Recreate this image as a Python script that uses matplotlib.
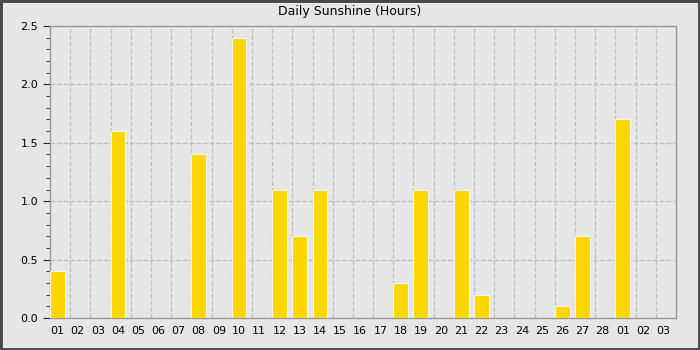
import numpy as np
import matplotlib.pyplot as plt
from matplotlib.patches import Rectangle

days = ['01', '02', '03', '04', '05', '06', '07', '08', '09', '10',
        '11', '12', '13', '14', '15', '16', '17', '18', '19', '20',
        '21', '22', '23', '24', '25', '26', '27', '28', '01', '02', '03']
sunshine = [0.4, 0, 0, 1.6, 0, 0, 0, 1.4, 0, 2.4,
            0, 1.1, 0.7, 1.1, 0, 0, 0, 0.3, 1.1, 0,
            1.1, 0.2, 0, 0, 0, 0.1, 0.7, 0, 1.7, 0, 0]

bg = '#e6e6e6'
fig = plt.figure(figsize=(7, 3.5), dpi=100, facecolor=bg)
ax = fig.add_axes([50 / 700, 1 - 318 / 350, 626 / 700, 292 / 350])
ax.set_facecolor(bg)

x = np.arange(len(days))
w = 0.73
ax.bar(x, sunshine, width=w, align='edge', color='#ffd700',
       edgecolor='#f4f4f4', linewidth=0.8, zorder=3)

ax.set_xlim(0, len(days))
ax.set_ylim(0, 2.5)
ax.set_xticks(x + w / 2)
ax.set_xticklabels(days)
ax.set_xticks(np.arange(1, len(days)), minor=True)
ax.tick_params(axis='x', which='both', length=0, labelsize=8, pad=6)
ax.set_yticks(np.arange(0, 2.51, 0.5))
ax.set_yticks(np.arange(0, 2.51, 0.1), minor=True)
ax.tick_params(axis='y', which='major', length=5, labelsize=8, color='#222222')
ax.tick_params(axis='y', which='minor', length=3, color='#222222')

ax.grid(axis='x', which='minor', linestyle='--', color='#bdbdbd', linewidth=0.9, zorder=0)
ax.grid(axis='y', which='major', linestyle='--', color='#bdbdbd', linewidth=0.9, zorder=0)
ax.grid(axis='x', which='major', visible=False)
for s in ax.spines.values():
    s.set_color('#999999')
    s.set_linewidth(1)

fig.text(0.5, 1 - 12 / 350, 'Daily Sunshine (Hours)', ha='center', va='center', fontsize=9)
fig.patches.append(Rectangle((0, 0), 1, 1, transform=fig.transFigure, fill=False,
                             edgecolor='#474747', linewidth=3.5))

fig.savefig('out.png', dpi=100, facecolor=bg)
